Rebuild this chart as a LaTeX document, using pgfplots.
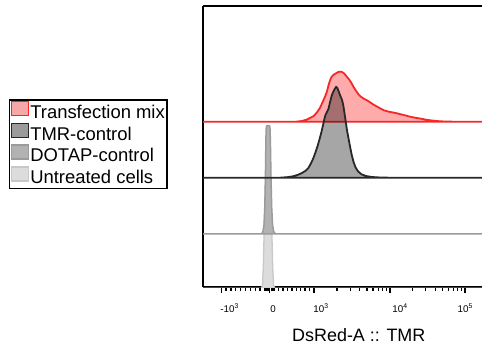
\documentclass[border=0pt]{standalone}
\usepackage{pgfplots}
\pgfplotsset{compat=1.18}
\usepackage{fontspec}
\setmainfont{Liberation Sans}
\definecolor{redline}{RGB}{245,40,40}
\definecolor{redfill}{RGB}{246,168,168}
\definecolor{blkline}{RGB}{40,40,40}
\definecolor{blkfill}{RGB}{155,155,155}
\definecolor{dotline}{RGB}{155,155,155}
\definecolor{dotfill}{RGB}{178,178,178}
\definecolor{untline}{RGB}{200,200,200}
\definecolor{untfill}{RGB}{220,220,220}
\begin{document}
\begin{tikzpicture}
\begin{axis}[
  at={(203bp,57.7bp)}, anchor=south west,
  scale only axis, width=279bp, height=281.3bp,
  xmin=203, xmax=482, ymin=0, ymax=281.3,
  axis x line*=box, axis y line*=left,
  axis line style={line width=1.8bp,-},
  xtick pos=lower, ytick=\empty,
  tick align=outside,
  xtick={229.7,273,321,400,465.3},
  xticklabels={-10\textsuperscript{3},0,10\textsuperscript{3},10\textsuperscript{4},10\textsuperscript{5}},
  major tick length=0bp,
  extra x ticks={221.3,269.7,314,390,465},
  extra x tick labels={},
  extra x tick style={major tick length=6bp, tick style={line width=1.5bp,black}},
  minor xtick={226.1,231.0,235.8,240.7,245.5,250.3,255.2,260.0,264.9,266.5,268,271.5,273,274.1,278.6,283.0,287.4,291.9,296.3,300.7,305.1,309.6,336.9,350.3,359.8,367.1,373.1,378.2,382.6,386.5,412.6,425.8,435.2,442.4,448.4,453.4,457.7,461.6},
  minor tick length=3.5bp,
  minor tick style={line width=1.3bp,black},
  xticklabel style={font=\fontsize{9.8}{11}\selectfont, anchor=base, yshift=-25bp},
  xlabel={DsRed-A :: TMR},
  x label style={at={(rel axis cs:0.5584,0)}, anchor=base, yshift=-53.7bp, font=\fontsize{18}{20}\selectfont},
  legend style={at={(rel axis cs:-0.6953,0.6683)}, anchor=north west, draw=black, line width=1.2bp, fill=white,
    inner xsep=1bp, inner ysep=1bp, font=\fontsize{18.5}{20}\selectfont, row sep=0pt, column sep=0pt,
    nodes={inner sep=1.2bp, text height=12.5bp, text depth=3bp}},
  legend cell align=left,
  legend image code/.code={\draw[#1, line width=1.5bp] (0bp,-2bp) rectangle (17bp,12bp);},
]
\addlegendimage{draw=redline, fill=redfill}
\addlegendimage{draw=blkline, fill=blkfill}
\addlegendimage{draw=dotline, fill=dotfill}
\addlegendimage{draw=untline, fill=untfill}
\legend{Transfection mix\hspace{3bp}, TMR-control, DOTAP-control, Untreated cells}

% Untreated cells
\addplot[forget plot, draw=untline, fill=untfill, line width=1.3bp, line join=round] coordinates {
(203,-1) (261.5,-1) (262.5,2) (263.3,20) (264,50) (264.8,80) (265.6,110) (266.5,120) (269.5,120) (270.4,110) (271.2,80) (272,50) (272.7,20) (273.6,2) (274.8,-1) (482,-1)
} -- cycle;
% DOTAP-control
\addplot[forget plot, draw=dotline, fill=dotfill, line width=1.5bp, line join=round] coordinates {
(203,53.3) (260.5,53.3) (262,53.8) (263,56) (264,62) (264.8,80) (265.4,110) (265.8,140) (266.1,158) (266.6,161.6) (269.6,161.6) (270.1,158) (270.5,140) (271,110) (271.7,80) (272.6,62) (273.6,56) (275,53.8) (276.5,53.3) (482,53.3)
} -- cycle;
% Transfection mix
\addplot[forget plot, draw=redline, fill=red, fill opacity=0.33, draw opacity=1, line width=1.8bp, line join=round] coordinates {
(203,165.6) (296,165.6) (302,166.3) (307,167.8) (311,169.8) (314,171.5) (317,175) (320,179.5) (322.5,185) (325,190.6) (327,196) (328.5,202) (330,207) (331.7,210.6) (333.5,212.5) (336,214) (338.5,215.4) (341.5,215.6) (344,214) (346.5,211) (349,208) (351,205) (353.5,200.5) (356,196.5) (358.5,193) (361,190.5) (364,188.5) (367,187) (370,185) (373,183) (376.5,181) (380,179) (384,177) (388,175.8) (392,175) (396,174.2) (400,173.2) (405,172) (410,170.6) (415,169.6) (420,168.8) (426,167.6) (432,166.8) (440,166) (448,165.7) (456,165.6) (482,165.6)
} -- cycle;
% TMR-control
\addplot[forget plot, draw=blkline, fill=black, fill opacity=0.35, draw opacity=1, line width=1.8bp, line join=round] coordinates {
(203,109.6) (280,109.6) (287,110.1) (293,111) (298,112.5) (302,114.3) (305.5,116.5) (308.5,119.5) (311,124) (313.3,129) (315.5,135) (317.5,141) (319.5,148) (321.5,155.5) (323,162) (324.3,168) (325.5,172.5) (327,175.5) (328.5,178.5) (330,185) (331.5,191) (333,195) (334.5,198) (336.2,200.6) (337.5,199) (339,195) (340.5,191) (342,187.5) (343.3,182) (344.5,174) (345.7,166) (347,157) (348.5,149) (350,141) (351.7,132.5) (353.5,125.5) (355.5,120) (358,116) (361.5,113) (366,111.3) (372,110.3) (380,109.8) (390,109.6) (482,109.6)
} -- cycle;
\end{axis}
\pgfresetboundingbox
\path[use as bounding box] (0,0) rectangle (482bp,345bp);
\end{tikzpicture}
\end{document}
